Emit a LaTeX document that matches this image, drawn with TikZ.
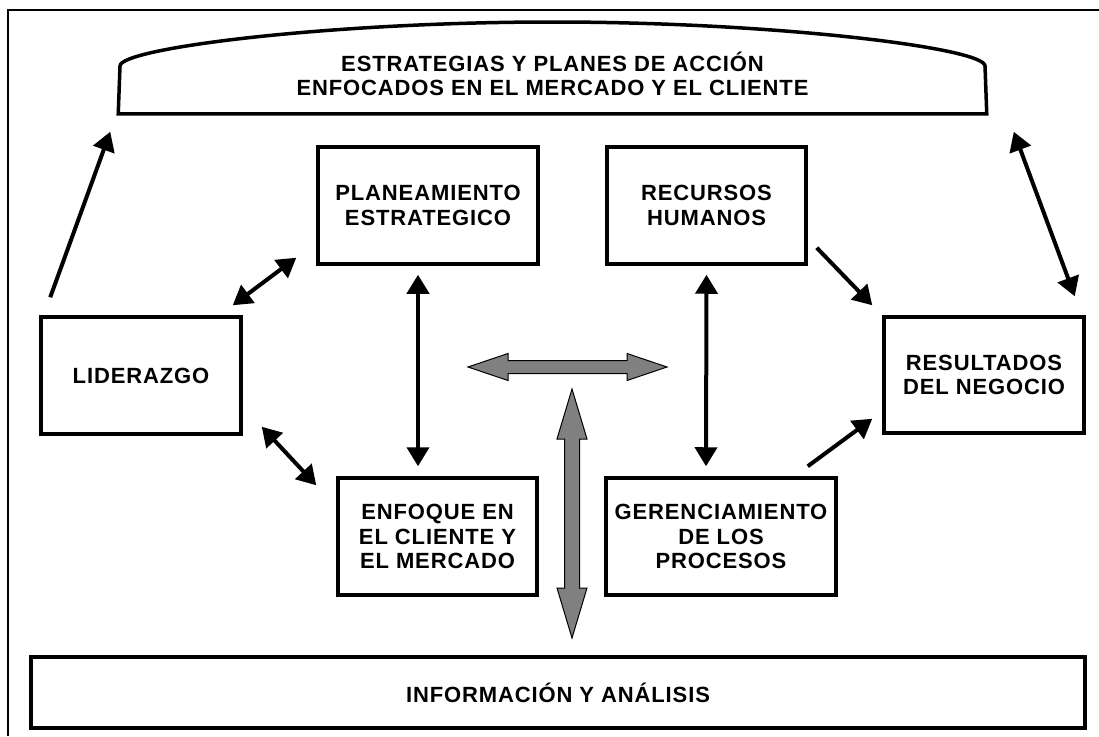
\documentclass[tikz,border=0pt]{standalone}
\usepackage{fontspec}
\setmainfont{Liberation Sans}[LetterSpace=4]
\usetikzlibrary{arrows.meta}
\definecolor{gris}{HTML}{808080}

\begin{document}
\begin{tikzpicture}[x=1pt,y=-1pt]
\tikzstyle{caja} = [draw,line width=3.5pt,inner sep=0pt,align=center,font=\bfseries\fontsize{22}{24.5}\selectfont]
\tikzstyle{a} = [line width=4pt,>={Triangle[length=19pt,width=22pt]},->]
\tikzstyle{g} = [fill=gris,draw=black,line width=1pt]
\useasboundingbox (0,0) rectangle (1099,736);
\draw[line width=2pt] (8,736) -- (8,10) -- (1099,10);
% banner
\node[caja,draw=none,minimum width=865,minimum height=76] (strat) at (552.5,74) {ESTRATEGIAS Y PLANES DE ACCIÓN\\ENFOCADOS EN EL MERCADO Y EL CLIENTE};
\draw[line width=3.5pt] (strat.south west) -- (120,66) .. controls (120,48) and (330,22) .. (552.5,22) .. controls (775,22) and (985,48) .. (985,66) -- (strat.south east) -- cycle;
% cajas
\node[caja,minimum width=200,minimum height=117] (lid) at (141,375.5) {LIDERAZGO};
\node[caja,minimum width=220,minimum height=117] (plan) at (428,205.5) {PLANEAMIENTO\\ESTRATEGICO};
\node[caja,minimum width=199,minimum height=117] (rec) at (706.5,205.5) {RECURSOS\\HUMANOS};
\node[caja,minimum width=200,minimum height=116] (res) at (984,375) {RESULTADOS\\DEL NEGOCIO};
\node[caja,minimum width=199,minimum height=117] (enf) at (437.5,536.5) {ENFOQUE EN\\EL CLIENTE Y\\EL MERCADO};
\node[caja,minimum width=230,minimum height=117] (ger) at (721,536.5) {GERENCIAMIENTO\\DE LOS\\PROCESOS};
\node[caja,minimum width=1054,minimum height=71] (info) at (558,692.5) {INFORMACIÓN Y ANÁLISIS};
% flechas
\path[a]
([shift={(11,-18)}]lid.north west) edge ([shift={(-8,18)}]strat.south west)
([shift={(-10,-10)}]lid.north east) edge[<->] ([shift={(-20,-8)}]plan.south west)
([shift={(19,-9)}]lid.south east) edge[<->] ([shift={(-20,9)}]enf.north west)
([shift={(-10,9)}]plan.south) edge[<->] ([shift={(-19.5,-10)}]enf.north)
([shift={(0,9)}]rec.south) edge[<->] ([shift={(-15,-10)}]ger.north)
([shift={(9,-18)}]rec.south east) edge ([shift={(-10,-10)}]res.north west)
([shift={(-30,-10)}]ger.north east) edge ([shift={(-10,-16)}]res.south west)
([shift={(-11,-19)}]res.north east) edge[<->] ([shift={(27,18)}]strat.south east);
% flechas grises
\draw[g] (468,367) -- (508,353.5) -- (508,360.5) -- (627,360.5) -- (627,353.5) -- (667,367)
  -- (627,380.5) -- (627,373.5) -- (508,373.5) -- (508,380.5) -- cycle;
\draw[g] (572,389) -- (587,439) -- (579.5,439) -- (579.5,588) -- (587,588) -- (572,638)
  -- (557,588) -- (564.5,588) -- (564.5,439) -- (557,439) -- cycle;
\end{tikzpicture}
\end{document}
